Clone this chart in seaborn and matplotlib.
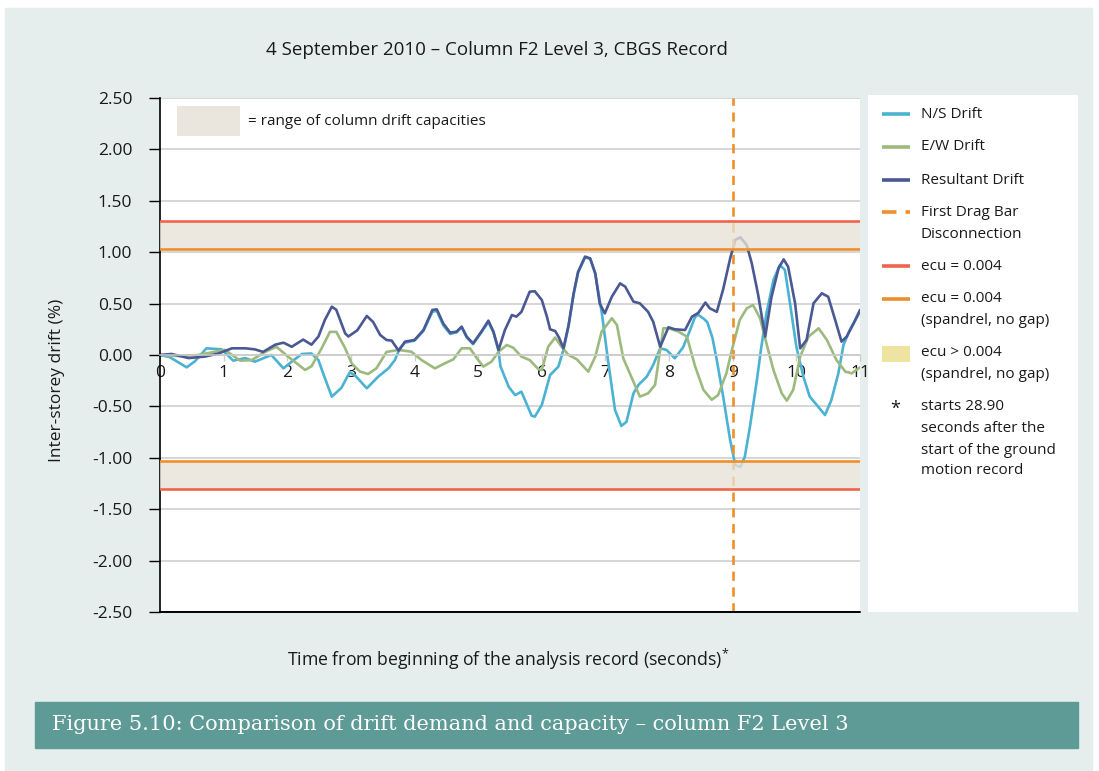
import pandas as pd
import matplotlib
matplotlib.use('Agg')
import matplotlib.pyplot as plt
import seaborn as sns
from matplotlib.patches import Rectangle
from matplotlib.lines import Line2D
from matplotlib.ticker import FormatStrFormatter

# drift readings (% of storey height)
ns_time = [0.0, 0.15, 0.42, 0.55, 0.73, 0.97, 1.15, 1.34, 1.49, 1.75, 1.94, 2.09, 2.23, 2.38,
           2.49, 2.57, 2.70, 2.85, 2.98, 3.06, 3.25, 3.43, 3.59, 3.69, 3.77, 3.85, 4.00, 4.14,
           4.28, 4.35, 4.45, 4.56, 4.66, 4.74, 4.82, 4.92, 5.05, 5.16, 5.24, 5.32, 5.35, 5.48,
           5.58, 5.68, 5.84, 5.89, 6.00, 6.13, 6.26, 6.34, 6.42, 6.50, 6.57, 6.68, 6.76, 6.84,
           6.94, 7.04, 7.15, 7.25, 7.33, 7.44, 7.52, 7.65, 7.75, 7.86, 7.96, 8.09, 8.22, 8.33,
           8.41, 8.46, 8.55, 8.60, 8.68, 8.75, 8.85, 8.96, 9.04, 9.12, 9.19, 9.27, 9.38, 9.45,
           9.53, 9.64, 9.74, 9.82, 9.90, 10.00, 10.11, 10.21, 10.32, 10.45, 10.55, 10.66, 10.74,
           10.84, 11.0]
ns_drift = [0.0, -0.02, -0.12, -0.06, 0.065, 0.055, -0.055, -0.03, -0.065, 0.0, -0.13, -0.055,
            0.01, 0.015, -0.05, -0.19, -0.405, -0.32, -0.17, -0.195, -0.324, -0.21, -0.13, -0.05,
            0.065, 0.12, 0.14, 0.235, 0.42, 0.43, 0.29, 0.205, 0.22, 0.27, 0.17, 0.105, 0.22,
            0.32, 0.22, 0.04, -0.11, -0.31, -0.39, -0.357, -0.59, -0.60, -0.486, -0.195, -0.113,
            0.049, 0.28, 0.59, 0.80, 0.95, 0.935, 0.79, 0.42, -0.05, -0.535, -0.69, -0.65, -0.373,
            -0.29, -0.21, -0.097, 0.065, 0.049, -0.032, 0.075, 0.243, 0.373, 0.39, 0.35, 0.32,
            0.17, -0.05, -0.405, -0.83, -1.07, -1.09, -0.99, -0.70, -0.243, 0.081, 0.405, 0.73,
            0.875, 0.827, 0.503, 0.081, -0.21, -0.405, -0.486, -0.584, -0.438, -0.178, 0.097,
            0.243, 0.42]

ew_time = [0.0, 0.3, 0.6, 0.85, 1.02, 1.26, 1.44, 1.65, 1.83, 2.02, 2.28, 2.38, 2.54, 2.67,
           2.77, 2.91, 3.01, 3.14, 3.27, 3.40, 3.56, 3.75, 3.95, 4.11, 4.32, 4.48, 4.61, 4.74,
           4.87, 5.00, 5.08, 5.21, 5.32, 5.45, 5.55, 5.68, 5.81, 5.95, 6.00, 6.10, 6.21, 6.31,
           6.42, 6.55, 6.73, 6.84, 6.94, 7.10, 7.18, 7.28, 7.44, 7.54, 7.67, 7.78, 7.91, 7.99,
           8.15, 8.28, 8.41, 8.54, 8.67, 8.77, 8.90, 9.00, 9.11, 9.22, 9.32, 9.43, 9.53, 9.64,
           9.77, 9.85, 9.95, 10.06, 10.19, 10.35, 10.48, 10.63, 10.77, 10.87, 11.0]
ew_drift = [0.0, -0.01, 0.0, 0.03, 0.05, -0.055, -0.05, 0.03, 0.08, -0.02, -0.145, -0.11, 0.065,
            0.225, 0.225, 0.065, -0.08, -0.16, -0.185, -0.13, 0.03, 0.049, 0.032, -0.049, -0.13,
            -0.08, -0.042, 0.065, 0.065, -0.049, -0.113, -0.065, 0.032, 0.097, 0.071, -0.016,
            -0.049, -0.14, -0.146, 0.081, 0.17, 0.081, 0.0, -0.042, -0.162, -0.016, 0.227, 0.357,
            0.292, -0.032, -0.26, -0.405, -0.373, -0.29, 0.26, 0.26, 0.227, 0.178, -0.113, -0.34,
            -0.435, -0.39, -0.178, 0.081, 0.34, 0.454, 0.486, 0.357, 0.113, -0.146, -0.373, -0.444,
            -0.34, -0.016, 0.178, 0.26, 0.146, -0.049, -0.162, -0.178, -0.12]

res_time = [0.0, 0.18, 0.45, 0.71, 0.92, 1.13, 1.34, 1.49, 1.62, 1.81, 1.94, 2.07, 2.25, 2.38,
            2.49, 2.59, 2.70, 2.77, 2.91, 2.96, 3.10, 3.25, 3.35, 3.46, 3.56, 3.64, 3.75, 3.85,
            4.00, 4.14, 4.28, 4.35, 4.45, 4.56, 4.66, 4.74, 4.82, 4.92, 5.05, 5.16, 5.24, 5.32,
            5.42, 5.53, 5.60, 5.68, 5.81, 5.89, 6.00, 6.08, 6.13, 6.21, 6.27, 6.34, 6.42, 6.50,
            6.57, 6.68, 6.76, 6.84, 6.91, 6.99, 7.10, 7.23, 7.31, 7.44, 7.54, 7.67, 7.75, 7.86,
            7.99, 8.09, 8.25, 8.36, 8.46, 8.57, 8.64, 8.75, 8.85, 8.96, 9.04, 9.12, 9.22, 9.30,
            9.40, 9.51, 9.61, 9.72, 9.80, 9.87, 9.98, 10.06, 10.16, 10.27, 10.40, 10.50, 10.61,
            10.71, 10.79, 10.90, 11.0]
res_drift = [0.0, 0.01, -0.03, -0.015, 0.015, 0.065, 0.065, 0.055, 0.03, 0.10, 0.12, 0.08, 0.15,
             0.10, 0.18, 0.34, 0.47, 0.44, 0.21, 0.18, 0.24, 0.38, 0.32, 0.195, 0.146, 0.14,
             0.042, 0.13, 0.146, 0.243, 0.438, 0.444, 0.308, 0.217, 0.227, 0.276, 0.178, 0.113,
             0.227, 0.334, 0.227, 0.049, 0.243, 0.389, 0.373, 0.42, 0.616, 0.62, 0.535, 0.373,
             0.25, 0.233, 0.17, 0.065, 0.29, 0.60, 0.81, 0.957, 0.94, 0.794, 0.50, 0.405, 0.567,
             0.697, 0.665, 0.519, 0.503, 0.42, 0.324, 0.08, 0.27, 0.25, 0.243, 0.373, 0.41, 0.51,
             0.454, 0.42, 0.64, 0.94, 1.12, 1.145, 1.07, 0.89, 0.584, 0.178, 0.567, 0.843, 0.93,
             0.86, 0.503, 0.065, 0.146, 0.503, 0.60, 0.567, 0.34, 0.13, 0.178, 0.308, 0.438]

# capacity limits and event time
ecu_limit = 1.30
ecu_spandrel = 1.03
drag_bar_time = 9.0

df = pd.concat([
    pd.DataFrame({'time': ns_time, 'drift': ns_drift, 'series': 'N/S Drift'}),
    pd.DataFrame({'time': ew_time, 'drift': ew_drift, 'series': 'E/W Drift'}),
    pd.DataFrame({'time': res_time, 'drift': res_drift, 'series': 'Resultant Drift'}),
])

ns_col = '#4bb2d3'
ew_col = '#9dba7e'
res_col = '#4a5894'
red_col = '#f0644c'
orange_col = '#ef8f2b'
band_col = '#e7e2d6'
panel_col = '#e5eeed'
txt_col = '#1a1a1a'

sns.set_theme(style='white')
plt.rcParams['font.family'] = ['Open Sans', 'DejaVu Sans']
plt.rcParams['axes.unicode_minus'] = False
plt.rcParams['mathtext.default'] = 'regular'

fig = plt.figure(figsize=(10.99, 7.71), dpi=100, facecolor='white')
W, H = 1099, 771

def fx(x):
    return x / W

def fy(y):
    return 1 - y / H

# background panel and caption bar (behind the axes)
fig.patches.append(Rectangle((fx(5), fy(770)), fx(1087), 762 / H, transform=fig.transFigure,
                             color=panel_col, zorder=-5))
fig.patches.append(Rectangle((fx(35), fy(748)), fx(1043), 46 / H, transform=fig.transFigure,
                             color='#5e9b96', zorder=-4))
fig.text(fx(52), fy(725), 'Figure 5.10: Comparison of drift demand and capacity \u2013 column F2 Level 3',
         family='DejaVu Serif', fontsize=15, color='white', va='center', ha='left')

ax = fig.add_axes([fx(160), fy(612), fx(700), 514 / H])
ax.set_zorder(2)
ax.set_facecolor('white')

sns.lineplot(data=df, x='time', y='drift', hue='series', estimator=None, sort=False,
             palette={'N/S Drift': ns_col, 'E/W Drift': ew_col, 'Resultant Drift': res_col},
             linewidth=1.9, legend=False, ax=ax, zorder=2)

ax.axvline(drag_bar_time, color=orange_col, lw=1.9, ls=(0, (3.5, 2.5)), zorder=2.5)
for s in (1, -1):
    lo, hi = sorted((s * ecu_spandrel, s * ecu_limit))
    ax.axhspan(lo, hi, color=band_col, alpha=0.78, lw=0, zorder=3)
    ax.axhline(s * ecu_limit, color=red_col, lw=1.9, zorder=4)
    ax.axhline(s * ecu_spandrel, color=orange_col, lw=1.9, zorder=4)
ax.axhline(-2.5, color='black', lw=1.4, zorder=5, clip_on=False)

ax.set_xlim(0, 11)
ax.set_ylim(-2.5, 2.5)
ax.set_yticks([2.5, 2.0, 1.5, 1.0, 0.5, 0.0, -0.5, -1.0, -1.5, -2.0, -2.5])
ax.yaxis.set_major_formatter(FormatStrFormatter('%.2f'))
ax.set_xticks(range(12))
ax.grid(axis='y', color='#cccccc', lw=1.1)
ax.grid(axis='x', visible=False)
ax.set_axisbelow(True)

for side in ('top', 'right'):
    ax.spines[side].set_visible(False)
ax.spines['left'].set_color('black')
ax.spines['left'].set_linewidth(1.2)
ax.spines['bottom'].set_position(('data', 0))
ax.spines['bottom'].set_color('#cccccc')
ax.spines['bottom'].set_linewidth(1.1)
ax.tick_params(axis='y', direction='out', length=8, width=1, color='black', pad=12,
               labelsize=12.5, labelcolor=txt_col, left=True)
ax.tick_params(axis='x', direction='out', length=4, width=1, color='#cccccc', pad=3,
               labelsize=12.5, labelcolor=txt_col, bottom=True)
ax.set_xlabel('')
ax.set_ylabel('Inter-storey drift (%)', fontsize=12.5, color=txt_col)
ax.yaxis.set_label_coords(-0.136, 0.451)

# inner key for capacity band
ax.add_patch(Rectangle((0.0243, 0.926), 0.09, 0.058, transform=ax.transAxes,
                       color='#ebe6dd', lw=0, zorder=6))
ax.text(0.1257, 0.955, '= range of column drift capacities', transform=ax.transAxes,
        fontsize=11, va='center', ha='left', color=txt_col, zorder=6)

fig.text(fx(497), fy(50), '4 September 2010 \u2013 Column F2 Level 3, CBGS Record',
         fontsize=13.5, ha='center', va='center', color=txt_col)
fig.text(fx(508), fy(659), 'Time from beginning of the analysis record (seconds)$^{*}$',
         fontsize=12.7, ha='center', va='center', color=txt_col)

# legend box on the right
lg = fig.add_axes([fx(868), fy(612), fx(210), 517 / H])
lg.set_zorder(2)
lg.set_xlim(0, 210)
lg.set_ylim(517, 0)
lg.axis('off')
lg.add_patch(Rectangle((0, 0), 210, 517, color='white', zorder=0))

def key_line(y, color, ls='-'):
    lg.add_line(Line2D([14, 42], [y, y], color=color, lw=2.6, ls=ls, solid_capstyle='butt'))

def key_text(y, s):
    lg.text(53, y, s, fontsize=11, va='center', ha='left', color=txt_col)

key_line(19, ns_col)
key_text(19, 'N/S Drift')
key_line(52, ew_col)
key_text(52, 'E/W Drift')
key_line(85, res_col)
key_text(85, 'Resultant Drift')
key_line(117, orange_col, ls=(0, (4, 2.5)))
key_text(117, 'First Drag Bar')
key_text(139, 'Disconnection')
key_line(171, red_col)
key_text(171, 'ecu = 0.004')
key_line(204, orange_col)
key_text(204, 'ecu = 0.004')
key_text(226, '(spandrel, no gap)')
lg.add_patch(Rectangle((14, 251), 28, 16, color='#efe3a2', lw=0))
key_text(258, 'ecu > 0.004')
key_text(280, '(spandrel, no gap)')
lg.text(27, 314, '*', fontsize=13, va='center', ha='center', color=txt_col)
key_text(312, 'starts 28.90')
key_text(333, 'seconds after the')
key_text(355, 'start of the ground')
key_text(376, 'motion record')

fig.savefig('out.png', dpi=100, facecolor='white')
